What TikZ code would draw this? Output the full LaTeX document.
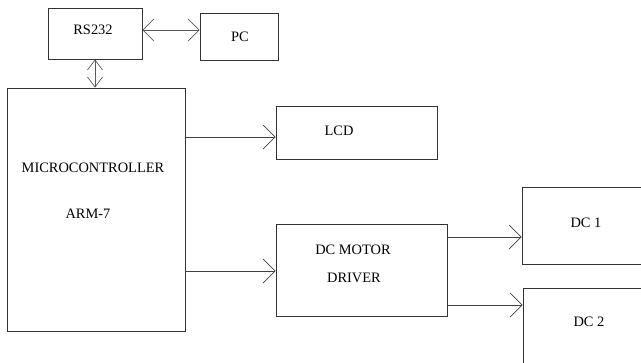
\documentclass[tikz,border=0pt]{standalone}
\usepackage{fontspec}
\setmainfont{Liberation Serif}
\usetikzlibrary{arrows.meta,positioning}

\tikzset{
  blk/.style={draw=black!80,line width=0.6pt,inner sep=0pt},
  txt/.style={font=\fontsize{12.3}{14}\selectfont,inner sep=0pt},
  arr/.style={draw=black!75,line width=0.6pt,-{Straight Barb[length=0.36cm,width=0.72cm]}},
  darr/.style={draw=black!65,line width=0.6pt,{Straight Barb[length=0.33cm,width=0.66cm]}-{Straight Barb[length=0.33cm,width=0.66cm]}},
  varr/.style={draw=black!65,line width=0.6pt,{Straight Barb[length=0.3cm,width=0.45cm]}-{Straight Barb[length=0.3cm,width=0.45cm]}}
}

\begin{document}
\begin{tikzpicture}[x=0.03cm,y=-0.03cm]
  \clip (0,0) rectangle (641,362);
  % blocks
  \node[blk,minimum width=2.82cm,minimum height=1.53cm] (rs) at (95,33.5) {};
  \node[blk,minimum width=2.34cm,minimum height=1.41cm] (pc) at (239,36.5) {};
  \node[blk,minimum width=5.34cm,minimum height=7.29cm] (mcu) at (96,209.5) {};
  \node[blk,minimum width=4.83cm,minimum height=1.59cm] (lcd) at (356.5,132.5) {};
  \node[blk,minimum width=5.13cm,minimum height=2.76cm] (drv) at (361.5,270) {};
  \node[blk,minimum width=4.14cm,minimum height=2.31cm] (dc1) at (591,225.5) {};
  \node[blk,minimum width=4.11cm,minimum height=2.76cm] (dc2) at (591.5,334) {};
  % texts
  \node[txt] (rsT) at (93,30) {RS232};
  \node[txt] (pcT) at (240,37) {PC};
  \node[txt] (mcuT) at (93,168) {MICROCONTROLLER};
  \node[txt] (armT) at (88,214) {ARM-7};
  \node[txt] (lcdT) at (339,131) {LCD};
  \node[txt] (drvT) at (353,250) {DC MOTOR};
  \node[txt] (drvT2) at (354,278) {DRIVER};
  \node[txt] (dc1T) at (586,223) {DC 1};
  \node[txt] (dc2T) at (589,322) {DC 2};
  % links
  \draw[darr] (rs.east |- 0,30) -- (pc.west |- 0,30);
  \draw[varr] (rs.south) -- (rs.south |- mcu.north);
  \draw[arr] (mcu.east |- 0,137) -- (lcd.west |- 0,137);
  \draw[arr] (mcu.east |- 0,271) -- (drv.west |- 0,271);
  \draw[arr] (drv.east |- 0,237) -- (dc1.west |- 0,237);
  \draw[arr] (drv.east |- 0,305) -- (dc2.west |- 0,305);
\end{tikzpicture}
\end{document}
